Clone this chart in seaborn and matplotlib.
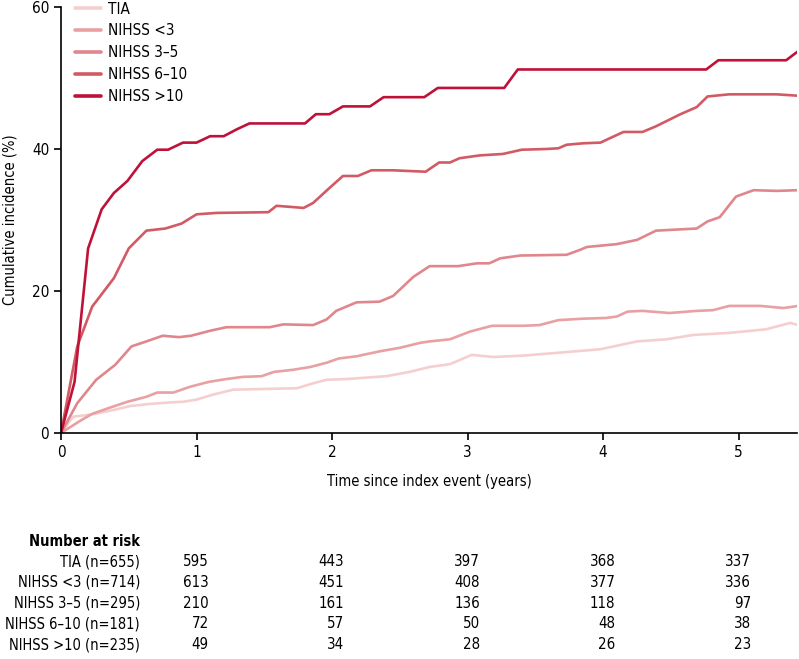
import numpy as np
import pandas as pd
import matplotlib
matplotlib.use("Agg")
import matplotlib.pyplot as plt
import seaborn as sns

# Cumulative incidence curves (years, %)
tia_t = [0, 0.09, 0.18, 0.28, 0.40, 0.51, 0.66, 0.80, 0.90, 1.00, 1.12, 1.27, 1.49, 1.74,
         1.86, 1.96, 2.11, 2.25, 2.40, 2.57, 2.72, 2.87, 3.03, 3.19, 3.41, 3.73, 3.98,
         4.25, 4.47, 4.66, 4.93, 5.20, 5.38, 5.44]
tia_y = [0, 2.3, 2.5, 2.8, 3.3, 3.8, 4.1, 4.3, 4.4, 4.7, 5.4, 6.1, 6.2, 6.3,
         7.0, 7.5, 7.6, 7.8, 8.0, 8.6, 9.3, 9.7, 11.0, 10.7, 10.9, 11.4, 11.8,
         12.9, 13.2, 13.8, 14.1, 14.6, 15.5, 15.2]

lt3_t = [0, 0.14, 0.23, 0.35, 0.49, 0.63, 0.71, 0.83, 0.95, 1.09, 1.22, 1.34, 1.48, 1.57,
         1.71, 1.84, 1.96, 2.05, 2.18, 2.35, 2.50, 2.65, 2.72, 2.87, 3.02, 3.18, 3.41,
         3.53, 3.67, 3.85, 4.02, 4.10, 4.18, 4.29, 4.49, 4.69, 4.81, 4.93, 5.16, 5.33, 5.44]
lt3_y = [0, 1.7, 2.7, 3.5, 4.4, 5.1, 5.7, 5.7, 6.5, 7.2, 7.6, 7.9, 8.0, 8.6,
         8.9, 9.3, 9.9, 10.5, 10.8, 11.5, 12.0, 12.7, 12.9, 13.2, 14.3, 15.1, 15.1,
         15.2, 15.9, 16.1, 16.2, 16.4, 17.1, 17.2, 16.9, 17.2, 17.3, 17.9, 17.9, 17.6, 17.9]

n35_t = [0, 0.12, 0.26, 0.40, 0.52, 0.63, 0.75, 0.87, 0.96, 1.10, 1.22, 1.54, 1.64, 1.86,
         1.96, 2.03, 2.18, 2.35, 2.45, 2.60, 2.72, 2.93, 3.07, 3.16, 3.24, 3.39, 3.73,
         3.83, 3.88, 4.10, 4.25, 4.39, 4.69, 4.77, 4.86, 4.98, 5.11, 5.28, 5.44]
n35_y = [0, 4.2, 7.5, 9.6, 12.2, 12.9, 13.7, 13.5, 13.7, 14.4, 14.9, 14.9, 15.3, 15.2,
         16.0, 17.2, 18.4, 18.5, 19.3, 22.0, 23.5, 23.5, 23.9, 23.9, 24.6, 25.0, 25.1,
         25.8, 26.2, 26.6, 27.2, 28.5, 28.8, 29.8, 30.4, 33.3, 34.2, 34.1, 34.2]

n610_t = [0, 0.12, 0.23, 0.39, 0.50, 0.63, 0.77, 0.89, 1.00, 1.15, 1.53, 1.59, 1.79, 1.86,
          1.98, 2.08, 2.19, 2.29, 2.45, 2.69, 2.79, 2.87, 2.94, 3.09, 3.26, 3.40, 3.58,
          3.67, 3.73, 3.85, 3.98, 4.07, 4.15, 4.29, 4.39, 4.57, 4.69, 4.77, 4.93, 5.08,
          5.28, 5.44]
n610_y = [0, 12.2, 17.8, 21.8, 26.0, 28.5, 28.8, 29.5, 30.8, 31.0, 31.1, 32.0, 31.7, 32.4,
          34.5, 36.2, 36.2, 37.0, 37.0, 36.8, 38.1, 38.1, 38.7, 39.1, 39.3, 39.9, 40.0,
          40.1, 40.6, 40.8, 40.9, 41.7, 42.4, 42.4, 43.2, 44.9, 45.9, 47.4, 47.7, 47.7,
          47.7, 47.5]

gt10_t = [0, 0.10, 0.20, 0.30, 0.39, 0.49, 0.60, 0.71, 0.79, 0.90, 1.00, 1.10, 1.20, 1.30,
          1.39, 1.80, 1.88, 1.98, 2.08, 2.28, 2.38, 2.68, 2.78, 3.27, 3.37, 4.76, 4.85,
          5.35, 5.44]
gt10_y = [0, 7.2, 26.0, 31.5, 33.8, 35.5, 38.3, 39.9, 39.9, 40.9, 40.9, 41.8, 41.8, 42.8,
          43.6, 43.6, 44.9, 44.9, 46.0, 46.0, 47.3, 47.3, 48.6, 48.6, 51.2, 51.2, 52.5,
          52.5, 53.8]

groups = ["TIA", "NIHSS <3", "NIHSS 3–5", "NIHSS 6–10", "NIHSS >10"]
colors = ["#f5cfcf", "#e8a0a2", "#df878c", "#d25a64", "#bf1238"]

# Number at risk table
risk_labels = ["TIA (n=655)", "NIHSS <3 (n=714)", "NIHSS 3–5 (n=295)",
               "NIHSS 6–10 (n=181)", "NIHSS >10 (n=235)"]
risk_years = [1, 2, 3, 4, 5]
risk_tia = [595, 443, 397, 368, 337]
risk_lt3 = [613, 451, 408, 377, 336]
risk_35 = [210, 161, 136, 118, 97]
risk_610 = [72, 57, 50, 48, 38]
risk_gt10 = [49, 34, 28, 26, 23]

curves = [(tia_t, tia_y), (lt3_t, lt3_y), (n35_t, n35_y), (n610_t, n610_y), (gt10_t, gt10_y)]
frames = []
for g, (t, y) in zip(groups, curves):
    frames.append(pd.DataFrame({"time": t, "inc": y, "group": g}))
df = pd.concat(frames, ignore_index=True)

sns.set_style("ticks")
plt.rcParams["font.family"] = ["DejaVu Sans", "Liberation Sans"]
plt.rcParams["font.stretch"] = "condensed"
plt.rcParams["text.color"] = "black"
plt.rcParams["axes.labelcolor"] = "black"
plt.rcParams["xtick.color"] = "black"
plt.rcParams["ytick.color"] = "black"

fig = plt.figure(figsize=(7.99, 6.59), dpi=100)
ax = fig.add_axes([61 / 799, 1 - 433 / 659, 736 / 799, 426 / 659])

sns.lineplot(data=df, x="time", y="inc", hue="group", hue_order=groups,
             palette=colors, estimator=None, linewidth=1.9, ax=ax)

ax.set_xlim(0, 5.43)
ax.set_ylim(0, 60)
ax.set_xticks([0, 1, 2, 3, 4, 5])
ax.set_yticks([0, 20, 40, 60])
ax.tick_params(axis="both", labelsize=11, length=5, width=1.2, color="black")
for s in ["top", "right"]:
    ax.spines[s].set_visible(False)
for s in ["left", "bottom"]:
    ax.spines[s].set_linewidth(1.2)
    ax.spines[s].set_color("black")
ax.set_xlabel("Time since index event (years)", fontsize=10.5, labelpad=10)
ax.set_ylabel("Cumulative incidence (%)", fontsize=10.5, labelpad=10)

leg = ax.legend(loc="upper left", bbox_to_anchor=(0.0, 1.045), frameon=False,
                fontsize=11, handlelength=1.7, labelspacing=0.45, handletextpad=0.5)
for line in leg.get_lines():
    line.set_linewidth(2.6)

# Number at risk table
row0 = 1 - 541 / 659
rowstep = 20.7 / 659
fig.text(140 / 799, row0, "Number at risk", ha="right", va="center",
         fontsize=10.5, fontweight="bold")
rows = [risk_tia, risk_lt3, risk_35, risk_610, risk_gt10]
for i, (lab, vals) in enumerate(zip(risk_labels, rows)):
    yy = row0 - (i + 1) * rowstep
    fig.text(140 / 799, yy, lab, ha="right", va="center", fontsize=10.5)
    for yr, v in zip(risk_years, vals):
        xx = ax.transData.transform((yr + 0.09, 0))[0]
        xf = fig.transFigure.inverted().transform((xx, 0))[0]
        fig.text(xf, yy, str(v), ha="right", va="center", fontsize=10.8)

fig.savefig("out.png", dpi=100)
